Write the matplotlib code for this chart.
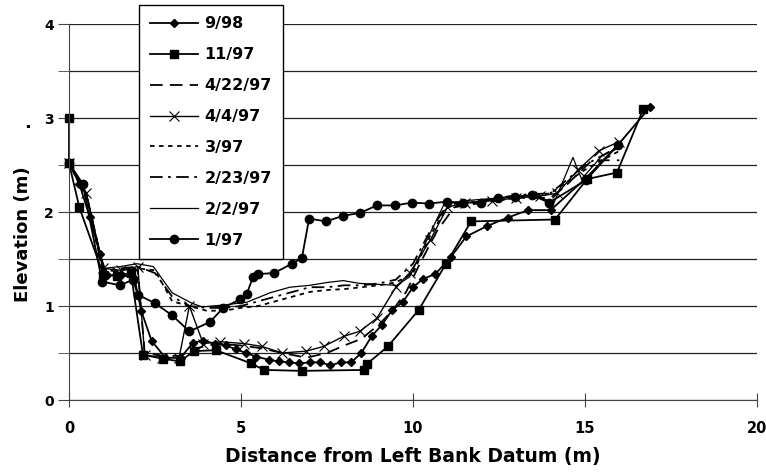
import matplotlib
matplotlib.use("Agg")
import matplotlib.pyplot as plt
from matplotlib.ticker import MultipleLocator

plt.rcParams['font.family'] = ['DejaVu Sans']
plt.rcParams['font.weight'] = 'bold'

# survey dates
labels = ['9/98', '11/97', '4/22/97', '4/4/97', '3/97', '2/23/97', '2/2/97', '1/97']

# 9/98
x_998 = [0, 0.3, 0.6, 0.9, 1.1, 1.5, 1.9, 2.1, 2.4, 2.8, 3.25, 3.6, 3.9, 4.25, 4.55,
         4.85, 5.15, 5.45, 5.8, 6.1, 6.4, 6.7, 7.0, 7.3, 7.6, 7.9, 8.2, 8.5, 8.8, 9.1,
         9.4, 9.7, 10.0, 10.3, 10.65, 11.1, 11.55, 12.15, 12.75, 13.35, 14.0, 15.0,
         15.95, 16.9]
y_998 = [2.52, 2.30, 1.95, 1.55, 1.33, 1.33, 1.30, 0.95, 0.63, 0.45, 0.45, 0.61, 0.63,
         0.60, 0.58, 0.54, 0.50, 0.46, 0.43, 0.41, 0.40, 0.39, 0.40, 0.40, 0.37, 0.40,
         0.40, 0.50, 0.68, 0.80, 0.96, 1.04, 1.20, 1.29, 1.34, 1.52, 1.74, 1.85, 1.94,
         2.02, 2.02, 2.35, 2.71, 3.12]

# 11/97
x_1197 = [0, 0, 0.3, 1.0, 1.4, 1.8, 2.15, 2.73, 3.23, 3.63, 4.27, 5.29, 5.67,
          6.77, 8.58, 8.65, 9.27, 10.17, 10.96, 11.69, 14.13, 15.06, 15.93, 16.7]
y_1197 = [3.0, 2.52, 2.05, 1.33, 1.32, 1.35, 0.48, 0.44, 0.41, 0.52, 0.53, 0.39,
          0.32, 0.31, 0.32, 0.38, 0.57, 0.96, 1.45, 1.90, 1.92, 2.35, 2.42, 3.1]

# 4/22/97
x_42297 = [0, 0.5, 1.0, 1.5, 2.0, 2.2, 2.7, 3.2, 3.7, 4.3, 5.0, 5.6, 6.2, 6.9, 7.5,
           8.0, 8.5, 9.0, 9.4, 9.8, 10.2, 10.7, 11.2, 12.0, 13.0, 14.0, 14.5, 15.2, 16.0]
y_42297 = [2.52, 2.2, 1.4, 1.35, 1.38, 0.5, 0.47, 0.47, 0.55, 0.6, 0.58, 0.55, 0.5,
           0.45, 0.5, 0.58, 0.65, 0.8, 0.95, 1.15, 1.45, 1.8, 2.05, 2.1, 2.15, 2.15,
           2.3, 2.55, 2.55]

# 4/4/97
x_4497 = [0, 0.5, 1.0, 1.5, 2.0, 2.2, 2.7, 3.2, 3.5, 3.9, 4.4, 5.1, 5.6, 6.2, 6.9, 7.4,
          8.0, 8.45, 8.95, 9.5, 9.9, 10.5, 11.0, 11.5, 12.3, 13.0, 13.7, 14.2, 14.8,
          15.4, 16.0]
y_4497 = [2.52, 2.2, 1.4, 1.38, 1.42, 0.48, 0.45, 0.45, 1.0, 0.6, 0.62, 0.6, 0.57, 0.5,
          0.52, 0.57, 0.68, 0.73, 0.87, 1.2, 1.35, 1.7, 2.05, 2.1, 2.12, 2.15, 2.17,
          2.2, 2.45, 2.65, 2.75]

# 3/97
x_397 = [0, 0.5, 1.0, 1.5, 2.0, 2.5, 3.0, 3.5, 4.0, 4.5, 5.0, 5.5, 6.0, 6.5, 7.0, 7.5,
         8.0, 8.5, 9.0, 9.5, 10.0, 10.5, 11.0, 12.0, 13.0, 14.0, 15.0, 16.0]
y_397 = [2.52, 2.15, 1.35, 1.38, 1.40, 1.38, 1.05, 1.0, 0.95, 0.95, 0.98, 1.0, 1.05,
         1.1, 1.15, 1.17, 1.18, 1.2, 1.22, 1.25, 1.35, 1.75, 2.05, 2.1, 2.15, 2.2,
         2.45, 2.65]

# 2/23/97
x_22397 = [0, 0.5, 1.0, 1.5, 2.0, 2.5, 3.0, 3.5, 4.0, 4.5, 5.0, 5.5, 6.0, 6.5, 7.0,
           7.5, 8.0, 8.5, 9.0, 9.5, 10.0, 10.5, 11.0, 12.0, 13.0, 14.0, 15.0, 16.0]
y_22397 = [2.52, 2.2, 1.38, 1.4, 1.42, 1.35, 1.1, 1.0, 0.98, 0.98, 1.0, 1.05, 1.1,
           1.15, 1.2, 1.2, 1.22, 1.22, 1.24, 1.28, 1.45, 1.8, 2.08, 2.12, 2.18, 2.2,
           2.5, 2.7]

# 2/2/97
x_2297 = [0, 0.5, 1.0, 1.5, 1.97, 2.45, 3.0, 3.57, 3.87, 4.48, 5.17, 5.84, 6.42, 7.0,
          7.5, 7.97, 8.46, 9.0, 9.53, 9.9, 10.4, 10.9, 11.5, 12.5, 13.5, 14.1, 14.65,
          14.9, 15.5, 16.1]
y_2297 = [2.52, 2.2, 1.4, 1.42, 1.45, 1.42, 1.14, 1.03, 0.99, 1.01, 1.04, 1.14, 1.2,
          1.22, 1.25, 1.27, 1.24, 1.23, 1.22, 1.31, 1.7, 2.08, 2.12, 2.15, 2.18, 2.1,
          2.58, 2.35, 2.6, 2.7]

# 1/97
x_197 = [0, 0.4, 0.96, 1.48, 1.86, 2.0, 2.5, 3.0, 3.5, 4.1, 4.48, 4.97, 5.17, 5.35,
         5.5, 5.96, 6.48, 6.77, 6.98, 7.47, 7.97, 8.46, 8.95, 9.48, 9.97, 10.47, 10.98,
         11.45, 11.98, 12.47, 12.97, 13.45, 13.96, 15.03, 15.95]
y_197 = [2.52, 2.3, 1.26, 1.22, 1.28, 1.12, 1.03, 0.90, 0.73, 0.83, 0.98, 1.07, 1.13,
         1.31, 1.34, 1.35, 1.45, 1.51, 1.93, 1.90, 1.96, 1.99, 2.07, 2.07, 2.10, 2.09,
         2.11, 2.10, 2.10, 2.15, 2.16, 2.18, 2.10, 2.34, 2.71]

fig = plt.figure(figsize=(7.66, 4.74), dpi=100)
ax = fig.add_axes([69 / 766, 1 - 400 / 474, (757 - 69) / 766, (400 - 24) / 474])

k = 'black'
style = dict(color=k, clip_on=False)
ax.plot(x_998, y_998, lw=1.3, marker='D', ms=4, label=labels[0], **style)
ax.plot(x_1197, y_1197, lw=1.3, marker='s', ms=6, label=labels[1], **style)
ax.plot(x_42297, y_42297, lw=1.3, ls=(0, (7, 4)), label=labels[2], **style)
ax.plot(x_4497, y_4497, lw=1.0, marker='x', ms=7, mew=0.8, label=labels[3], **style)
ax.plot(x_397, y_397, lw=1.3, ls=(0, (2.5, 2.5)), label=labels[4], **style)
ax.plot(x_22397, y_22397, lw=1.3, ls=(0, (7, 3, 1.5, 3)), label=labels[5], **style)
ax.plot(x_2297, y_2297, lw=0.9, label=labels[6], **style)
ax.plot(x_197, y_197, lw=1.3, marker='o', ms=6, label=labels[7], **style)

ax.set_xlim(0, 20)
ax.set_ylim(0, 4)
ax.xaxis.set_major_locator(MultipleLocator(5))
ax.yaxis.set_major_locator(MultipleLocator(1))
ax.yaxis.set_minor_locator(MultipleLocator(0.5))
ax.grid(axis='y', which='both', color='#222222', lw=0.9)
ax.set_axisbelow(True)
ax.spines['top'].set_visible(False)
ax.spines['right'].set_visible(False)
ax.spines['left'].set_color('#444444')
ax.spines['bottom'].set_color('#444444')
ax.tick_params(axis='y', which='both', direction='out', length=8, color='#444444',
               labelsize=10, pad=3)
ax.tick_params(axis='x', direction='inout', length=10, color='#444444', labelsize=10.5,
               pad=10)
for t in ax.get_xticklabels() + ax.get_yticklabels():
    t.set_fontweight('bold')

ax.set_xlabel('Distance from Left Bank Datum (m)', fontsize=13.5, fontweight='bold',
              labelpad=8)
ax.set_ylabel('Elevation (m)', fontsize=13, fontweight='bold')
ax.yaxis.set_label_coords(-0.054, 0.44)
fig.text(28 / 766, 1 - 128 / 474, '.', fontsize=13, fontweight='bold', ha='center',
         va='baseline')

leg = ax.legend(loc='upper left', bbox_to_anchor=(139 / 766, 1 - 5 / 474),
                bbox_transform=fig.transFigure, borderaxespad=0, fancybox=False,
                framealpha=1, edgecolor='black', handlelength=3.0, labelspacing=1.0,
                prop={'weight': 'bold', 'size': 11.5}, borderpad=0.7,
                handletextpad=0.4)
leg.get_frame().set_linewidth(1.0)

fig.savefig('out.png', dpi=100)
